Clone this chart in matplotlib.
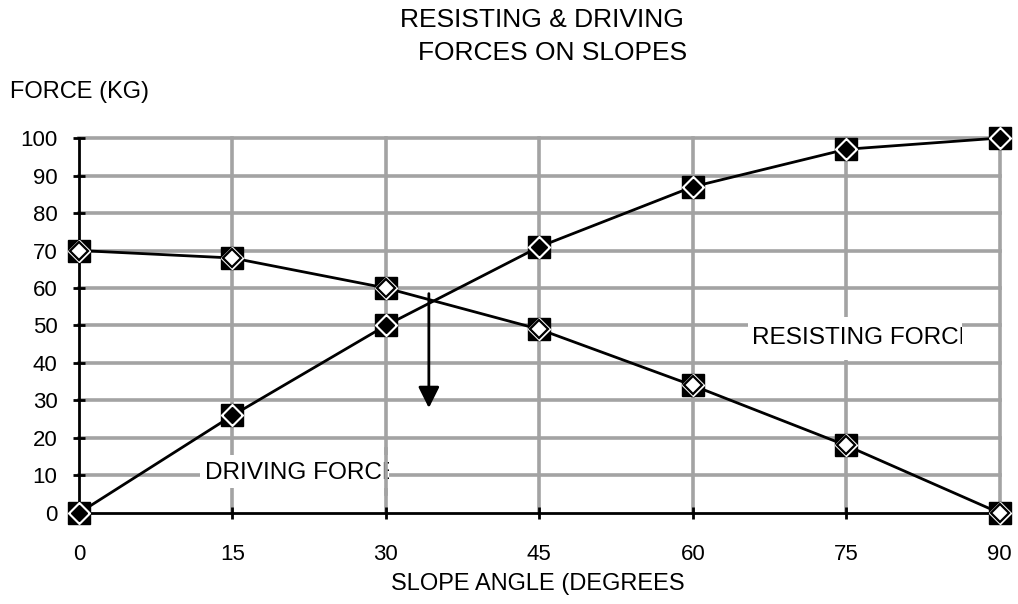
import numpy as np
import matplotlib
matplotlib.use('Agg')
import matplotlib.pyplot as plt
import matplotlib.patches as mpatches
from matplotlib.transforms import Bbox, TransformedBbox

plt.rcParams['font.family'] = ['Liberation Sans', 'DejaVu Sans']

# ── Gögn ──────────────────────────────────────────────────────────────────────
angle     = [0, 15, 30, 45, 60, 75, 90]
driving   = [0, 26, 50, 71, 87, 97, 100]
resisting = [70, 68, 60, 49, 34, 18, 0]
x_ticks   = [0, 15, 30, 45, 60, 75, 90]
y_ticks   = [0, 10, 20, 30, 40, 50, 60, 70, 80, 90, 100]
arrow_x, arrow_top, arrow_tip = 34.2, 58.5, 28

FS = 16
GRID = '#a3a3a3'

# ── Mynd ──────────────────────────────────────────────────────────────────────
fig = plt.figure(figsize=(10.18, 6.04), dpi=100)
ax = fig.add_axes([0.0776, 0.1507, 0.9044, 0.6208])
ax.set_xlim(0, 90)
ax.set_ylim(0, 100)

# gridlínur
for xv in x_ticks[1:]:
    ax.axvline(xv, color=GRID, lw=2.6, zorder=1, clip_on=False)
for yv in y_ticks[1:]:
    ax.axhline(yv, color=GRID, lw=2.6, zorder=1, clip_on=False)
# gridlínan við 30 liggur yfir textakassanum
ax.axvline(30, ymin=0.05, ymax=0.17, color=GRID, lw=2.6, zorder=2.6)

for s in ['top', 'right']:
    ax.spines[s].set_visible(False)
for s in ['left', 'bottom']:
    ax.spines[s].set_linewidth(2)
    ax.spines[s].set_zorder(2.7)

ax.set_xticks(x_ticks)
ax.set_yticks(y_ticks)
ax.tick_params(axis='both', direction='inout', length=9, width=2, labelsize=FS)
ax.tick_params(axis='x', pad=18)
ax.tick_params(axis='y', pad=11)

# línur
ax.plot(angle, driving, color='black', lw=2, zorder=3, clip_on=False)
ax.plot(angle, resisting, color='black', lw=2, zorder=3, clip_on=False)

# merki
ax.plot(angle, driving, ls='none', marker='s', ms=16, color='black', zorder=4, clip_on=False)
ax.plot(angle, driving, ls='none', marker='D', ms=11.5, mfc='white', mec='white', zorder=5, clip_on=False)
ax.plot(angle, driving, ls='none', marker='D', ms=8.5, mfc='black', mec='black', zorder=6, clip_on=False)

ax.plot(angle, resisting, ls='none', marker='s', ms=16, color='black', zorder=4, clip_on=False)
ax.plot(angle, resisting, ls='none', marker='D', ms=11.5, mfc='white', mec='white', zorder=5, clip_on=False)
ax.plot(angle, resisting, ls='none', marker='D', ms=9.5, mfc='white', mec='black', mew=1.6, zorder=6, clip_on=False)

# ör
ax.annotate('', xy=(arrow_x, arrow_tip), xytext=(arrow_x, arrow_top),
            arrowprops=dict(arrowstyle='-|>', color='black', lw=2, mutation_scale=32,
                            shrinkA=0, shrinkB=0), zorder=3)

# textakassar (texti klipptur við kassann eins og í frumritinu)
d_box = [11.8, 6.7, 30.3, 15.5]
r_box = [65.4, 40.8, 86.3, 52.3]
for (x0, y0, x1, y1) in (d_box, r_box):
    ax.add_patch(mpatches.Rectangle((x0, y0), x1 - x0, y1 - y0,
                                    facecolor='white', edgecolor='none', zorder=2))

t1 = ax.text(12.3, 10.7, 'DRIVING FORCE', fontsize=17.6, va='center', ha='left',
             zorder=2.5, clip_on=True)
t1.set_clip_path(None)
t1.set_clip_box(TransformedBbox(Bbox([[d_box[0], d_box[1]], [d_box[2], d_box[3]]]), ax.transData))
t2 = ax.text(65.8, 46.7, 'RESISTING FORCE', fontsize=17.6, va='center', ha='left',
             zorder=2.5, clip_on=True)
t2.set_clip_path(None)
t2.set_clip_box(TransformedBbox(Bbox([[r_box[0], r_box[1]], [r_box[2], r_box[3]]]), ax.transData))

fig.text(542 / 1018, 1 - 20 / 604, 'RESISTING & DRIVING', ha='center', va='center', fontsize=19)
fig.text(553 / 1018, 1 - 53 / 604, 'FORCES ON SLOPES', ha='center', va='center', fontsize=19)
fig.text(10 / 1018, 1 - 92 / 604, 'FORCE (KG)', ha='left', va='center', fontsize=17)
fig.text(538 / 1018, 1 - 584 / 604, 'SLOPE ANGLE (DEGREES', ha='center', va='center', fontsize=17)

plt.savefig('out.png', dpi=100)
